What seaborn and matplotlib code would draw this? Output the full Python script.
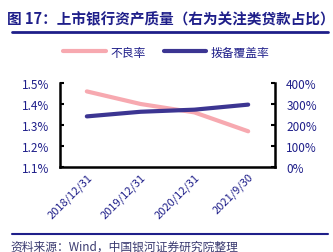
import matplotlib
matplotlib.use("Agg")
import matplotlib.pyplot as plt
import seaborn as sns
import pandas as pd
from matplotlib.ticker import FuncFormatter, MultipleLocator

sns.set_theme(style="white")
plt.rcParams['font.family'] = ['Noto Sans CJK SC', 'DejaVu Sans']

dates = ["2018/12/31", "2019/12/31", "2020/12/31", "2021/9/30"]
npl = [1.46, 1.40, 1.36, 1.27]
coverage = [241, 263, 273, 297]

navy = "#1f1f8a"
pink = "#f7a9b0"
purple = "#3c3592"

df = pd.DataFrame({"x": range(len(dates)), "npl": npl, "cov": coverage})

fig = plt.figure(figsize=(3.33, 2.53), dpi=100)
ax = fig.add_axes([0.18, 0.336, 0.646, 0.332])
ax2 = ax.twinx()

sns.lineplot(data=df, x="x", y="npl", ax=ax, color=pink, linewidth=3, label="不良率", legend=False)
sns.lineplot(data=df, x="x", y="cov", ax=ax2, color=purple, linewidth=3, label="拨备覆盖率", legend=False)

ax.set_xlim(-0.5, 3.5)
ax.set_ylim(1.1, 1.5)
ax2.set_ylim(0, 400)
ax.yaxis.set_major_locator(MultipleLocator(0.1))
ax2.yaxis.set_major_locator(MultipleLocator(100))
ax.yaxis.set_major_formatter(FuncFormatter(lambda v, p: f"{v:.1f}%"))
ax2.yaxis.set_major_formatter(FuncFormatter(lambda v, p: f"{v:.0f}%"))
ax.set_xticks([i * 0.5 - 0.5 for i in range(9)])
ax.set_xticklabels(["" if i % 2 == 0 else dates[i // 2] for i in range(9)],
                   rotation=45, ha="right", rotation_mode="anchor")
ax.set_xlabel("")
ax.set_ylabel("")
ax2.set_ylabel("")

for a in (ax, ax2):
    a.grid(False)
    for s in a.spines.values():
        s.set_visible(False)
    a.tick_params(direction="in", colors="black", labelcolor=navy, labelsize=8.5, width=1.5, length=3)
ax.spines["left"].set_visible(True)
ax.spines["bottom"].set_visible(True)
ax2.spines["right"].set_visible(True)
for a, k in ((ax, "left"), (ax, "bottom"), (ax2, "right")):
    a.spines[k].set_color("black")
    a.spines[k].set_linewidth(1.8)
ax.tick_params(axis="x", labelsize=8, pad=3)
ax.tick_params(axis="y", pad=8)
ax2.tick_params(axis="y", pad=8)

h1, l1 = ax.get_legend_handles_labels()
h2, l2 = ax2.get_legend_handles_labels()
fig.legend(h1 + h2, l1 + l2, loc="center", bbox_to_anchor=(0.5, 0.79), ncol=2, frameon=False,
           fontsize=8.5, labelcolor=navy, handlelength=3.6, columnspacing=1.5, handletextpad=0.4)

fig.text(0.02, 0.925, "图 17：上市银行资产质量（右为关注类贷款占比）", fontsize=10.5, fontweight="bold",
         color=navy, va="center", ha="left")
fig.add_artist(plt.Line2D([0.035, 0.985], [0.868, 0.868], color=navy, linewidth=2))
fig.add_artist(plt.Line2D([0.035, 0.985], [0.072, 0.072], color=navy, linewidth=1.5))
fig.text(0.03, 0.025, "资料来源：Wind，中国银河证券研究院整理", fontsize=8.5, style="italic",
         color="#3a3a70", va="center", ha="left")

fig.savefig("out.png", dpi=100)
